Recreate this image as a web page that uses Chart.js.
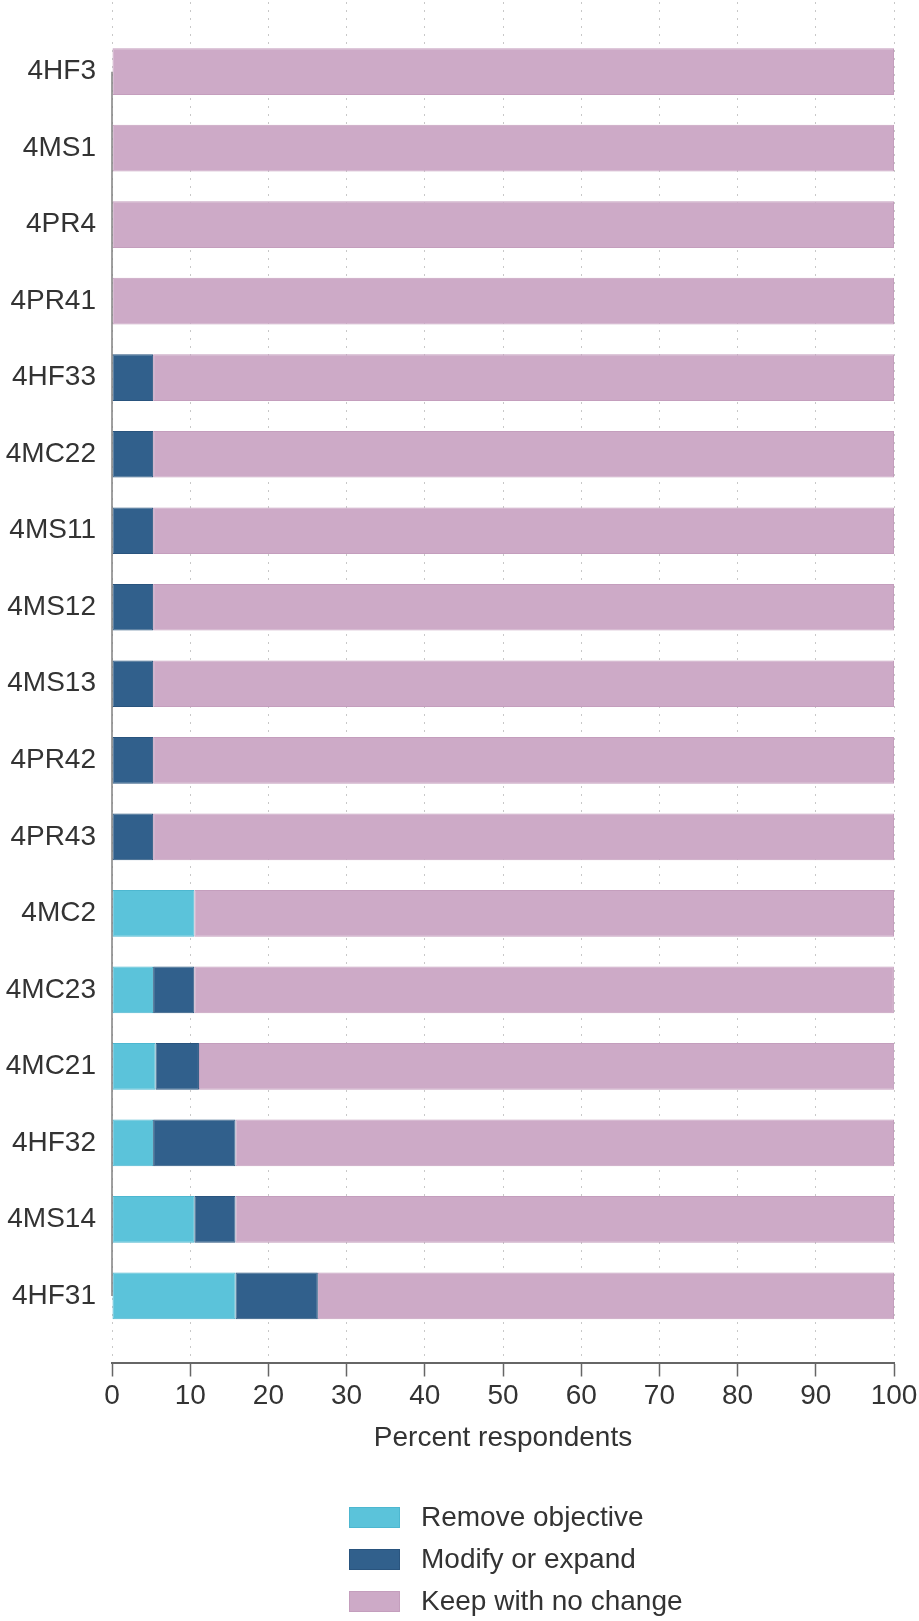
<!DOCTYPE html>
<html>
<head>
<meta charset="utf-8">
<script src="https://cdn.jsdelivr.net/npm/chart.js@4/dist/chart.umd.min.js"></script>
<style>
  html, body { margin: 0; padding: 0; background: #fff; }
  #wrap { position: relative; width: 919px; height: 1621px; }
  #legend { position: absolute; left: 349px; top: 1496px; font-family: 'Liberation Sans', Arial, sans-serif; font-size: 28px; color: #333; }
  .row { display: flex; align-items: center; height: 42px; }
  .box { width: 51px; height: 21px; box-sizing: border-box; border: 1px solid; margin-right: 21px; }
</style>
</head>
<body>
<div id="wrap">
  <canvas id="c" width="919" height="1621"></canvas>
  <div id="legend"></div>
</div>
<script>
const categories = ['4HF3','4MS1','4PR4','4PR41','4HF33','4MC22','4MS11','4MS12','4MS13','4PR42','4PR43','4MC2','4MC23','4MC21','4HF32','4MS14','4HF31'];
const removeObjective = [0,0,0,0,0,0,0,0,0,0,0,10.53,5.26,5.56,5.26,10.53,15.79];
const modifyOrExpand  = [0,0,0,0,5.26,5.26,5.26,5.26,5.26,5.26,5.26,0,5.26,5.56,10.53,5.26,10.53];
const keepNoChange    = [100,100,100,100,94.74,94.74,94.74,94.74,94.74,94.74,94.74,89.47,89.47,88.89,84.21,84.21,73.68];
const seriesNames = ['Remove objective','Modify or expand','Keep with no change'];
const xTicks = [0,10,20,30,40,50,60,70,80,90,100];

const fills = ['#5BC3DA','#31608C','#CDAAC7'];
const borders = ['#4DB7D0','#29547E','#C49EBD'];
const FONT = "'Liberation Sans', Arial, sans-serif";

function toPoints(arr){ return arr.map((v,i)=>({x:v, y:i})); }
const seriesData = [removeObjective, modifyOrExpand, keepNoChange];

const yAxisLine = {
  id: 'yAxisLine',
  afterDatasetsDraw(chart){
    const {ctx, scales:{x,y}} = chart;
    const px = x.getPixelForValue(0);
    ctx.save();
    ctx.strokeStyle = '#808080';
    ctx.lineWidth = 1.5;
    ctx.beginPath();
    ctx.moveTo(px, y.getPixelForValue(0));
    ctx.lineTo(px, y.getPixelForValue(categories.length-1));
    ctx.stroke();
    ctx.restore();
  }
};

new Chart(document.getElementById('c'), {
  type: 'bar',
  data: {
    datasets: seriesData.map((d,i)=>({
      label: seriesNames[i],
      data: toPoints(d),
      backgroundColor: fills[i],
      borderColor: borders[i],
      borderWidth: 1,
      borderSkipped: false,
      barPercentage: 0.61,
      categoryPercentage: 1
    }))
  },
  options: {
    indexAxis: 'y',
    responsive: false,
    animation: false,
    layout: { padding: { left: 0, top: 2, right: 25, bottom: 165.5 } },
    plugins: { legend: { display: false }, tooltip: { enabled: false } },
    scales: {
      x: {
        type: 'linear', stacked: true, min: 0, max: 100, offset: false,
        afterBuildTicks(s){ s.ticks = xTicks.map(v=>({value:v})); },
        afterFit(s){ s.height = 93; s.paddingLeft = 0; s.paddingRight = 0; },
        ticks: { font: { family: FONT, size: 28 }, color: '#333', padding: 3, maxRotation: 0, autoSkip: false },
        grid: { color: '#c8c8c8', lineWidth: 1, drawTicks: true, tickLength: 14, tickColor: '#666', tickWidth: 1.5, tickBorderDash: [], offset: false },
        border: { display: true, color: '#666', width: 2, dash: [2,6] },
        title: { display: true, text: 'Percent respondents', font: { family: FONT, size: 28 }, color: '#333', padding: 0 }
      },
      y: {
        type: 'linear', stacked: true, reverse: true, min: -0.91, max: 16.87, offset: false,
        afterBuildTicks(s){ s.ticks = categories.map((c,i)=>({value:i})); },
        afterFit(s){ s.width = 112; s.paddingTop = 0; s.paddingBottom = 0; },
        ticks: { font: { family: FONT, size: 28 }, color: '#333', padding: 16, autoSkip: false,
                 callback: (v)=> categories[v] },
        grid: { display: false, drawTicks: false, offset: false },
        border: { display: false }
      }
    }
  },
  plugins: [yAxisLine]
});

const lg = document.getElementById('legend');
seriesNames.forEach((n,i)=>{
  const r = document.createElement('div'); r.className = 'row';
  const b = document.createElement('div'); b.className = 'box';
  b.style.background = fills[i]; b.style.borderColor = borders[i];
  const t = document.createElement('span'); t.textContent = n;
  r.appendChild(b); r.appendChild(t); lg.appendChild(r);
});
</script>
</body>
</html>
